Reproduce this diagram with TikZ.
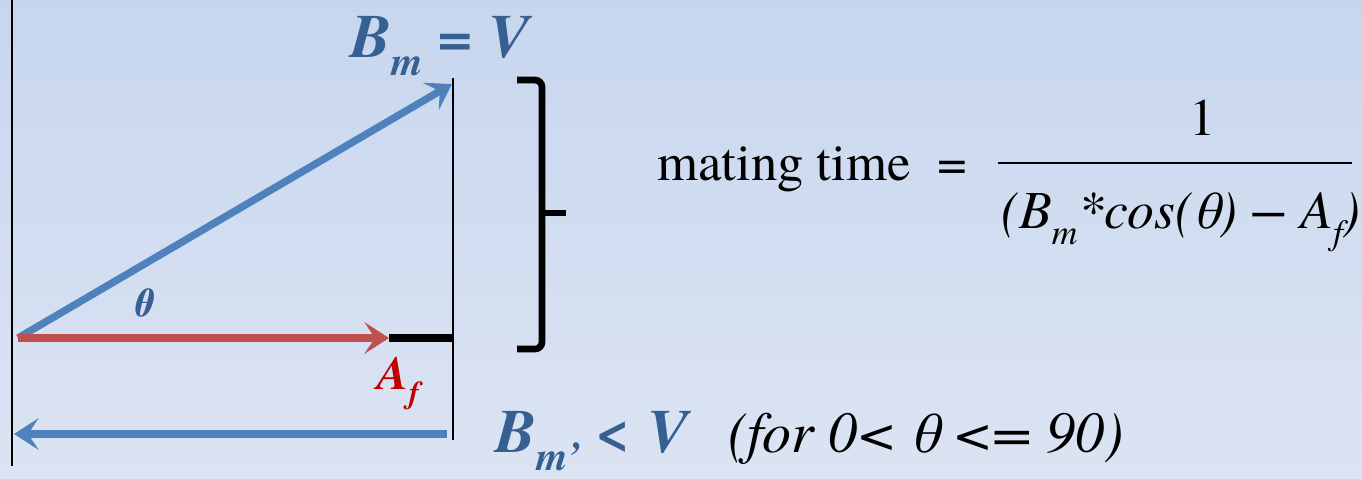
\documentclass[tikz,border=0pt]{standalone}
\usepackage{graphicx}
\usepackage{fontspec}
\setmainfont{TeX Gyre Termes}
\usetikzlibrary{positioning, arrows.meta, calc}
\definecolor{cBlue}{RGB}{79,129,189}
\definecolor{cRed}{RGB}{192,80,77}
\definecolor{cLabel}{RGB}{55,96,146}
\definecolor{cAf}{RGB}{192,0,0}
\definecolor{cTop}{RGB}{199,214,238}
\definecolor{cBot}{RGB}{220,228,243}
\newcommand{\lowsub}[1]{\raisebox{-0.3em}{\scalebox{0.66}{#1}}}

\begin{document}
\begin{tikzpicture}[x=0.02cm, y=-0.02cm,
    vec/.style={line width=4.2pt, -{Stealth[length=14pt, width=18pt, inset=6pt]}},
    lbl/.style={font=\fontsize{35}{40}\selectfont\bfseries\itshape, text=cLabel, inner sep=0pt},
    eqn/.style={font=\fontsize{30}{34}\selectfont, inner sep=0pt}]

    % Background
    \shade[top color=cTop, bottom color=cBot] (0,0) rectangle (1362,478);
    \useasboundingbox (0,0) rectangle (1362,478);

    % Points
    \coordinate (O) at (18,338);
    \coordinate (BmTip) at (452,84);
    \coordinate (AfEnd) at (389,338);
    \coordinate (Corner) at (453,338);
    \coordinate (VTop) at (453,78);
    \coordinate (VBot) at (453,440);
    \coordinate (BackStart) at (447,434);
    \coordinate (BackEnd) at (14,434);
    \coordinate (AxisTop) at (12,0);
    \coordinate (AxisBot) at (12,466);
    \coordinate (BrTop) at (517,80);
    \coordinate (BrBot) at (517,349);
    \coordinate (BrTip) at (566,213);
    \coordinate (BarL) at (998,163);
    \coordinate (BarR) at (1352,163);

    % Lines and vectors
    \draw[line width=1.5pt] (AxisTop) -- (AxisBot);
    \draw[line width=1.5pt] (VTop) -- (VBot);
    \draw[vec, cBlue] (O) -- (BmTip);
    \draw[vec, cRed] (O) -- (AfEnd);
    \draw[line width=5pt] (AfEnd) -- (Corner);
    \draw[vec, cBlue] (BackStart) -- (BackEnd);

    % Bracket
    \draw[line width=3.8pt, rounded corners=4pt] (BrTop) -- ++(25,0) |- (BrBot);
    \draw[line width=3.8pt] (BrTip) -- ++(-24,0);

    % Labels
    \node[lbl, anchor=base west] (BmLbl) at (350,57) {B\lowsub{m} = V};
    \node[lbl, font=\fontsize{23}{26}\selectfont\bfseries\itshape] (theta) at (142,303) {θ};
    \node[lbl, text=cAf, font=\fontsize{27}{30}\selectfont\bfseries\itshape, anchor=base west] (AfLbl) at (377,389) {A\lowsub{f}};
    \node[lbl, anchor=base west] (BmPrime) at (495,452) {B\lowsub{m'} < V};
    \node[eqn, font=\fontsize{33}{36}\selectfont\itshape, anchor=base west] (range) at (728,452) {(for 0< θ <= 90)};

    % Formula
    \node[eqn, anchor=base west] (mating) at (657,180) {mating time};
    \node[eqn, anchor=base west] (equals) at (937,180) {=};
    \draw[line width=1.4pt] (BarL) -- (BarR);
    \node[eqn] (one) at (1203,118) {1};
    \node[eqn, font=\fontsize{30.5}{34}\selectfont\itshape, anchor=base] (den) at (1181,228) {(B\lowsub{m}*cos(θ) − A\lowsub{f})};

\end{tikzpicture}
\end{document}
